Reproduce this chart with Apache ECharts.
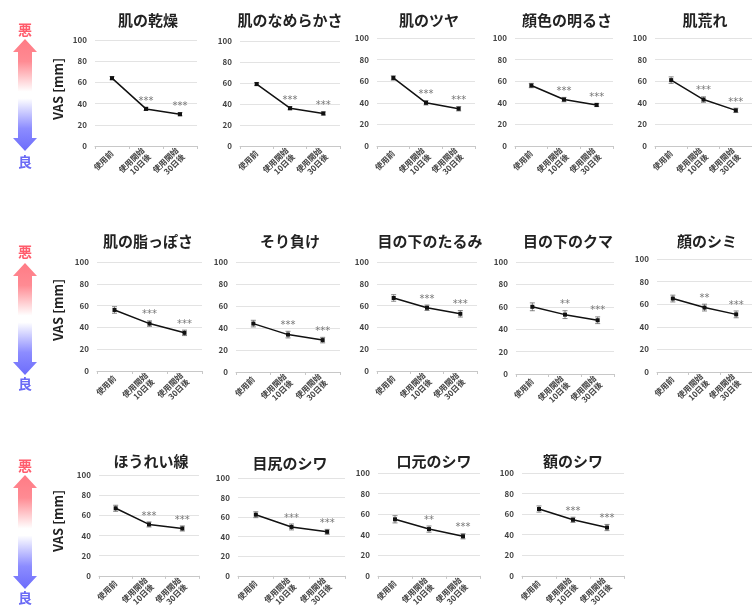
<!DOCTYPE html>
<html>
<head>
<meta charset="utf-8">
<script src="https://cdn.jsdelivr.net/npm/echarts@6/dist/echarts.min.js"></script>
<style>
  html, body { margin: 0; padding: 0; background: #fff; }
  #main { width: 752px; height: 613px; }
</style>
</head>
<body>
<div id="main"></div>
<script>
// データ
const cats = ['使用前', '使用開始\n10日後', '使用開始\n30日後'];
const yTicks = [0, 20, 40, 60, 80, 100];
const titles = [
  '肌の乾燥', '肌のなめらかさ', '肌のツヤ', '顔色の明るさ', '肌荒れ',
  '肌の脂っぽさ', 'そり負け', '目の下のたるみ', '目の下のクマ', '顔のシミ',
  'ほうれい線', '目尻のシワ', '口元のシワ', '額のシワ'
];
const means = [
  [64, 35, 30], [59, 36, 31], [63, 40, 34.5], [56, 43, 38], [61, 43, 33],
  [56, 43.5, 35], [44, 34, 29], [67, 58, 52.5], [60, 53, 48], [65, 57, 51],
  [67, 51, 47], [62.5, 50, 45], [55, 45.5, 38.5], [65, 54.5, 47]
];
const sems = [
  [1.5, 1.5, 1.5], [1.5, 1.5, 1.5], [2, 2, 2], [2, 2, 1.5], [3, 2.5, 2],
  [3, 2.5, 2.5], [3, 3, 2.5], [3, 2.5, 3], [3.5, 3.5, 3], [3, 3, 3],
  [3, 2.5, 2.5], [3, 3, 2.5], [3.5, 3, 2.5], [3, 2.5, 3]
];
const stars = [
  ['', '***', '***'], ['', '***', '***'], ['', '***', '***'], ['', '***', '***'], ['', '***', '***'],
  ['', '***', '***'], ['', '***', '***'], ['', '***', '***'], ['', '**', '***'], ['', '**', '***'],
  ['', '***', '***'], ['', '***', '***'], ['', '**', '***'], ['', '***', '***']
];

// 各パネルの位置 [left, top, width, height, titleX, titleY]
const layout = [
  [95, 40, 102, 106, 143, 8], [240, 41, 100, 105, 285, 8], [377, 38, 98, 108, 424, 8],
  [515, 38, 98, 108, 562, 8], [655, 38, 100, 108, 700, 8],
  [97, 262, 105, 109, 143, 229], [236, 262, 104, 110, 285, 229], [377, 262, 100, 109, 425, 229],
  [516, 262, 98, 112, 563, 229], [657, 259, 102, 113, 702, 229],
  [99, 475, 100, 111, 146, 449], [238, 478, 107, 110, 285, 451], [378, 473, 102, 119, 429, 449],
  [522, 473, 102, 119, 568, 449]
];
// 左側の矢印 (行ごと) [悪Y, 矢印上端, 矢印下端, 良Y, VAS中心Y]
const arrows = [
  [30, 39, 151, 162, 89],
  [252, 263, 375, 384, 310],
  [466, 475, 589, 598, 521]
];

const font = '"Noto Sans CJK JP", "Noto Sans", sans-serif';

let chart = echarts.init(document.getElementById('main'), null, { renderer: 'canvas' });

let grids = [], xAxes = [], yAxes = [], series = [], titleList = [], graphics = [];

titles.forEach((t, k) => {
  const L = layout[k];
  grids.push({ left: L[0], top: L[1], width: L[2], height: L[3] });
  titleList.push({
    text: t, left: L[4], top: L[5], textAlign: 'center',
    textStyle: { fontFamily: font, fontSize: 15, fontWeight: 'bold', color: '#222' }
  });
  xAxes.push({
    type: 'category', gridIndex: k, data: cats, boundaryGap: true,
    axisLine: { lineStyle: { color: '#c8c8c8' } },
    axisTick: { show: true, length: 3, lineStyle: { color: '#c8c8c8' } },
    axisLabel: {
      rotate: 45, interval: 0, margin: 6, fontFamily: font, fontSize: 8,
      fontWeight: 'bold', color: '#444', lineHeight: 9
    }
  });
  yAxes.push({
    type: 'value', gridIndex: k, min: 0, max: 100, interval: 20,
    axisLine: { show: false }, axisTick: { show: false },
    splitLine: { lineStyle: { color: '#e3e3e3' } },
    axisLabel: { fontFamily: font, fontSize: 8, fontWeight: 'bold', color: '#444', margin: 8 }
  });
  series.push({
    type: 'custom', xAxisIndex: k, yAxisIndex: k,
    data: means[k].map((m, i) => [i, m, sems[k][i]]),
    z: 2,
    renderItem: function (params, api) {
      const i = api.value(0), m = api.value(1), s = api.value(2);
      const hi = api.coord([i, m + s]);
      const lo = api.coord([i, m - s]);
      const w = 2.5;
      const st = { stroke: '#666', lineWidth: 0.8 };
      const star = stars[k][params.dataIndex];
      return {
        type: 'group',
        children: [
          { type: 'line', shape: { x1: hi[0], y1: hi[1], x2: lo[0], y2: lo[1] }, style: st },
          { type: 'line', shape: { x1: hi[0] - w, y1: hi[1], x2: hi[0] + w, y2: hi[1] }, style: st },
          { type: 'line', shape: { x1: lo[0] - w, y1: lo[1], x2: lo[0] + w, y2: lo[1] }, style: st },
          {
            type: 'text',
            style: {
              text: star, x: hi[0], y: hi[1] - 1, align: 'center', verticalAlign: 'bottom',
              fontFamily: 'DejaVu Sans, sans-serif', fontSize: 10, fill: '#777'
            }
          }
        ]
      };
    }
  });
  series.push({
    type: 'line', xAxisIndex: k, yAxisIndex: k, data: means[k],
    symbol: 'rect', symbolSize: 4, z: 3,
    lineStyle: { color: '#111', width: 1.5 },
    itemStyle: { color: '#111' },
    emphasis: { disabled: true }
  });
});

// 悪 / 良 の矢印
arrows.forEach(a => {
  const top = a[1], bot = a[2], head = 13, cx = 25, hw = 12, sw = 7;
  graphics.push({
    type: 'polygon',
    shape: {
      points: [
        [cx, top], [cx + hw, top + head], [cx + sw, top + head], [cx + sw, bot - head],
        [cx + hw, bot - head], [cx, bot], [cx - hw, bot - head], [cx - sw, bot - head],
        [cx - sw, top + head], [cx - hw, top + head]
      ]
    },
    style: {
      fill: new echarts.graphic.LinearGradient(0, 0, 0, 1, [
        { offset: 0, color: '#ff7b85' },
        { offset: 0.2, color: '#ff8b93' },
        { offset: 0.47, color: '#ffffff' },
        { offset: 0.53, color: '#ffffff' },
        { offset: 0.8, color: '#8c8cff' },
        { offset: 1, color: '#6c6cfb' }
      ])
    }
  });
  graphics.push({
    type: 'text', x: cx, y: a[0],
    style: {
      text: '悪', fontFamily: font, fontSize: 14, fontWeight: 'bold', fill: '#ff5c6c',
      align: 'center', verticalAlign: 'middle'
    }
  });
  graphics.push({
    type: 'text', x: cx, y: a[3],
    style: {
      text: '良', fontFamily: font, fontSize: 14, fontWeight: 'bold', fill: '#6a6af5',
      align: 'center', verticalAlign: 'middle'
    }
  });
  graphics.push({
    type: 'text', x: 58, y: a[4], rotation: Math.PI / 2,
    style: {
      text: 'VAS [mm]', fontFamily: font, fontSize: 13, fontWeight: 'bold', fill: '#222',
      align: 'center', verticalAlign: 'middle'
    }
  });
});

chart.setOption({
  animation: false,
  title: titleList,
  grid: grids,
  xAxis: xAxes,
  yAxis: yAxes,
  series: series,
  graphic: graphics
});
</script>
</body>
</html>
